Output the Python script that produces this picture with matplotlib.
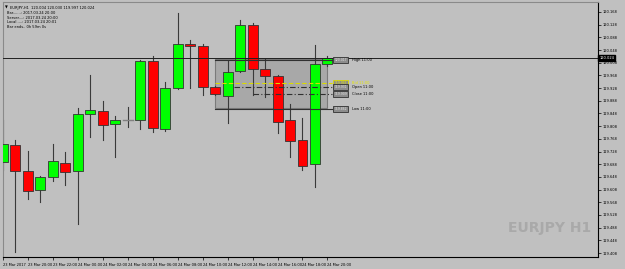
import matplotlib.pyplot as plt
from matplotlib import font_manager
from matplotlib.patches import Rectangle

# EURJPY H1 bars, 23 Mar 18:00 .. 24 Mar 20:00
bars = list(range(27))
opens = [119.695, 119.749, 119.667, 119.607, 119.648, 119.692, 119.667, 119.846, 119.856,
         119.815, 119.827, 119.827, 120.013, 119.799, 119.928, 120.067, 120.061, 119.931,
         119.903, 119.982, 120.127, 119.988, 119.966, 119.827, 119.764, 119.689, 120.004]
highs = [119.827, 119.764, 119.730, 119.651, 119.752, 119.726, 119.865, 119.969, 119.887,
         119.840, 119.868, 120.016, 120.029, 119.947, 120.165, 120.080, 120.067, 119.935,
         120.013, 120.143, 120.133, 120.020, 119.969, 119.878, 119.834, 120.064, 120.030]
lows = [119.670, 119.411, 119.578, 119.569, 119.635, 119.622, 119.499, 119.774, 119.764,
        119.711, 119.805, 119.799, 119.790, 119.793, 119.925, 119.928, 119.906, 119.906,
        119.818, 119.979, 119.906, 119.900, 119.786, 119.711, 119.670, 119.616, 119.997]
closes = [119.752, 119.667, 119.603, 119.648, 119.698, 119.663, 119.846, 119.859, 119.812,
          119.827, 119.827, 120.013, 119.802, 119.928, 120.067, 120.061, 119.931, 119.909,
          119.979, 120.127, 119.988, 119.966, 119.821, 119.761, 119.682, 120.004, 120.024]

xtick_pos = [0, 2, 4, 6, 8, 10, 12, 14, 16, 18, 20, 22, 24, 26]
xtick_labels = ["23 Mar 2017", "23 Mar 20:00", "23 Mar 22:00", "24 Mar 00:00", "24 Mar 02:00",
                "24 Mar 04:00", "24 Mar 06:00", "24 Mar 08:00", "24 Mar 10:00", "24 Mar 12:00",
                "24 Mar 14:00", "24 Mar 16:00", "24 Mar 18:00", "24 Mar 20:00"]
ytick_vals = [120.168, 120.128, 120.088, 120.048, 120.008, 119.968, 119.928, 119.888,
              119.848, 119.808, 119.768, 119.728, 119.688, 119.648, 119.608, 119.568,
              119.528, 119.488, 119.448, 119.408]

# levels of the 11:00 bar box
level_names = ["High 11:00", "Bid 11:00", "Open 11:00", "Close 11:00", "Low 11:00"]
level_prices = [120.017, 119.943, 119.931, 119.909, 119.862]
level_start = [17, 17, 18.5, 20, 17]
box_x0, box_x1 = 17, 26
box_top, box_bottom = 120.020, 119.865

last_price = 120.024
info_lines = ["EURJPY,H1  120.004 120.030 119.997 120.024",
              "Bar.......: 2017.03.24 20:00",
              "Server....: 2017.03.24 20:00",
              "Local.....: 2017.03.24 20:01",
              "Bar ends.. 0h 59m 0s"]

# narrow font if there is one
try:
    font_manager.findfont("Liberation Sans Narrow", fallback_to_default=False)
    narrow = True
except Exception:
    narrow = False
plt.rcParams["font.family"] = ["Liberation Sans Narrow", "DejaVu Sans"]
small = 3.4 if narrow else 2.6

bg = "#c0c0c0"
fig = plt.figure(figsize=(6.25, 2.69), dpi=100, facecolor=bg)
ax = fig.add_axes([3 / 625, 12 / 269, 595 / 625, 255 / 269], facecolor=bg)
ax.set_xlim(0.08, 47.68)
ax.set_ylim(119.3954, 120.1995)

# the bar box
ax.add_patch(Rectangle((box_x0, box_bottom), box_x1 - box_x0, box_top - box_bottom,
                       facecolor="#a8a8a8", edgecolor="#7a7a7a", lw=0.8, zorder=1))

# candles
w = 0.8
for i in bars:
    o, h, l, c = opens[i], highs[i], lows[i], closes[i]
    ax.plot([i, i], [l, h], color="#3a3a3a", lw=0.8, zorder=2)
    if abs(c - o) < 0.0005:
        ax.plot([i - w / 2, i + w / 2], [o, o], color="#808080", lw=1.0, zorder=3)
        continue
    col = "#00ff00" if c > o else "#ff0000"
    ax.add_patch(Rectangle((i - w / 2, min(o, c)), w, abs(c - o), facecolor=col,
                           edgecolor="#333333", lw=0.6, zorder=3))

# level lines and their labels
styles = ["-", (0, (4, 2)), (0, (5, 2, 1, 2)), (0, (5, 2, 1, 2)), "-"]
colors = ["#303030", "#dada00", "#303030", "#303030", "#303030"]
for name, p, x0, ls, col in zip(level_names, level_prices, level_start, styles, colors):
    yellow = col == "#dada00"
    ax.plot([x0, 26.4], [p, p], color=col, lw=0.8, ls=ls, zorder=4)
    ax.text(27.05, p, f"{p:.3f}", fontsize=small - 0.4, color="#f0f000" if yellow else "#e8e8e8",
            ha="center", va="center", zorder=6,
            bbox=dict(boxstyle="square,pad=0.3", facecolor="#8c8c8c", edgecolor=col, lw=0.6))
    ax.text(28.0, p, name, fontsize=small, color="#e8e800" if yellow else "black",
            ha="left", va="center", zorder=6)

# current price line
ax.axhline(last_price, color="#202020", lw=0.7, zorder=4)

# axes styling
for s in ["top", "left"]:
    ax.spines[s].set_color("#8a8a8a")
ax.spines["right"].set_color("black")
ax.spines["bottom"].set_color("black")
ax.yaxis.tick_right()
ax.set_yticks(ytick_vals)
ax.set_yticklabels([f"{v:.3f}" for v in ytick_vals])
ax.tick_params(axis="y", labelsize=small, length=2, width=0.5, pad=1.5, colors="black")
ax.set_xticks(xtick_pos)
ax.set_xticklabels(xtick_labels, ha="left")
ax.tick_params(axis="x", labelsize=small, length=2.5, width=0.5, pad=1.5, colors="black")

ax.text(1.002, last_price, f"{last_price:.3f}", transform=ax.get_yaxis_transform(),
        fontsize=small, color="white", ha="left", va="center", zorder=10, clip_on=False,
        bbox=dict(boxstyle="square,pad=0.25", facecolor="black", edgecolor="black"))

# info panel
ax.text(0.004, 0.985, "\u25bc", transform=ax.transAxes, fontsize=2.6, va="top", ha="left",
        family="DejaVu Sans")
for k, line in enumerate(info_lines):
    ax.text(0.011 if k == 0 else 0.006, 0.985 - k * 0.019, line, transform=ax.transAxes,
            fontsize=small, va="top", ha="left", color="black")

# watermark
ax.text(0.988, 0.085, "EURJPY H1", transform=ax.transAxes, fontsize=13 if narrow else 10,
        fontweight="bold", color="#a9a9a9", ha="right", va="bottom", zorder=0)

fig.savefig("out.png", dpi=100, facecolor=bg)
